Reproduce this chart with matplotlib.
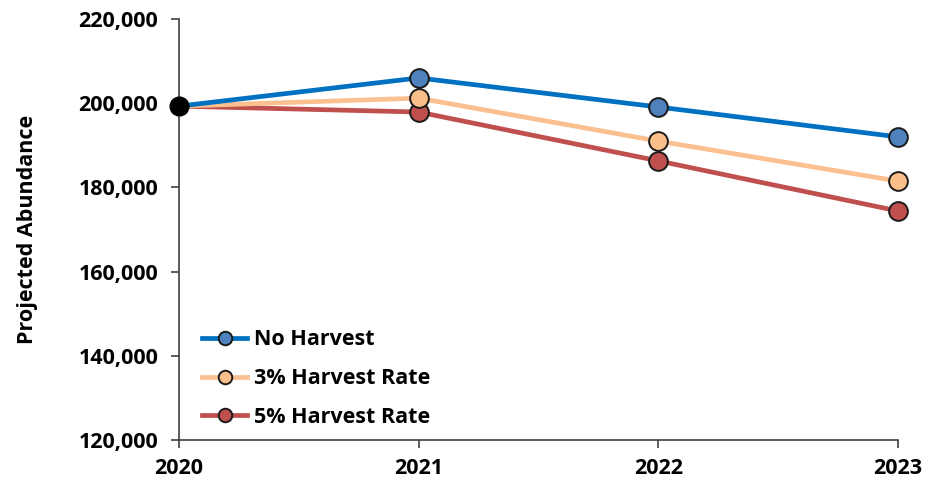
import matplotlib.pyplot as plt
from matplotlib.ticker import FuncFormatter

years = [2020, 2021, 2022, 2023]
no_harvest = [199300, 206000, 199100, 192000]
harvest_3 = [199300, 201200, 191000, 181500]
harvest_5 = [199300, 197900, 186300, 174400]
start_value = 199300

plt.rcParams['font.family'] = ['Open Sans', 'DejaVu Sans']
plt.rcParams['font.weight'] = 'bold'

fig = plt.figure(figsize=(9.3, 4.87), dpi=100)
ax = fig.add_axes([0.1925, 0.0965, 0.773, 0.8645])

series = [
    (no_harvest, '#0070C0', '#4F81BD', 'No Harvest'),
    (harvest_3, '#FAC090', '#FBBF8A', '3% Harvest Rate'),
    (harvest_5, '#C0504D', '#C0504D', '5% Harvest Rate'),
]
for vals, lc, mc, lab in series[::-1]:
    ax.plot(years, vals, color=lc, lw=3.4, marker='o', markersize=13.5,
            markerfacecolor=mc, markeredgecolor='#1a1a1a', markeredgewidth=1.4,
            markevery=[1, 2, 3], label=lab, zorder=3, clip_on=False)

# common starting point
ax.plot([years[0]], [start_value], 'o', color='black', markersize=13.5, zorder=5, clip_on=False)

ax.set_xlim(2020, 2023)
ax.set_ylim(120000, 220000)
ax.set_xticks(years)
ax.set_yticks(range(120000, 220001, 20000))
ax.yaxis.set_major_formatter(FuncFormatter(lambda v, p: f'{int(v):,}'))

for s in ['top', 'right']:
    ax.spines[s].set_visible(False)
for s in ['left', 'bottom']:
    ax.spines[s].set_color('#404040')
    ax.spines[s].set_linewidth(1.2)
ax.tick_params(axis='both', colors='#404040', length=6, width=1.2, labelsize=15.5,
               labelcolor='black')
ax.tick_params(axis='y', pad=9)
ax.tick_params(axis='x', pad=7)
for t in ax.get_xticklabels() + ax.get_yticklabels():
    t.set_fontweight('bold')

fig.text(27 / 930, (0.961 + 0.0965) / 2, 'Projected Abundance', rotation=90,
         ha='center', va='center', fontsize=15.5, fontweight='bold')

handles, labels = ax.get_legend_handles_labels()
leg = ax.legend(handles[::-1], labels[::-1], loc='lower left', bbox_to_anchor=(0.005, -0.017),
                frameon=False, fontsize=15.5, handlelength=2.1, labelspacing=0.82,
                handletextpad=0.3, markerscale=0.72)
for t in leg.get_texts():
    t.set_fontweight('bold')

fig.savefig('out.png', dpi=100)
